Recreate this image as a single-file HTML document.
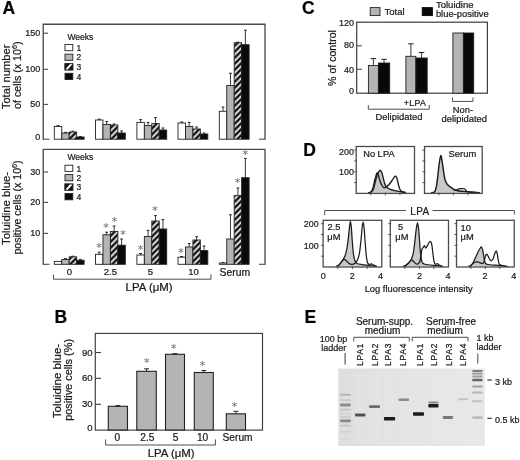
<!DOCTYPE html>
<html lang="en">
<head>
<meta charset="utf-8">
<title>Figure: LPA effects on mast cell number, toluidine blue staining, flow cytometry and RT-PCR</title>
<style>
html,body{margin:0;padding:0;background:#fff;}
body{width:520px;height:460px;overflow:hidden;}
svg{display:block;font-family:"Liberation Sans",sans-serif;}
svg text{white-space:pre;stroke:#1a1a1a;stroke-width:0.22px;}
.ast{font-family:"DejaVu Sans",sans-serif;stroke:#7a7a7a;stroke-width:0.15px;}
</style>
</head>
<body>
<svg width="520" height="460" viewBox="0 0 520 460">
<defs>
<pattern id="hatch" patternUnits="userSpaceOnUse" x="54.3" y="139.2" width="6" height="6">
<rect width="6" height="6" fill="#111"/>
<path d="M-1,7 L7,-1 M-1,1 L1,-1 M5,7 L7,5" stroke="#fff" stroke-width="1.65" fill="none"/>
</pattern>
<linearGradient id="gelbg" x1="0" y1="0" x2="1" y2="0">
<stop offset="0" stop-color="#dedede"/><stop offset="0.5" stop-color="#e4e4e4"/><stop offset="1" stop-color="#e8e8e8"/>
</linearGradient>
<filter id="b1" x="-5%" y="-5%" width="110%" height="110%"><feGaussianBlur stdDeviation="0.6"/></filter>
<filter id="b0" x="-5%" y="-5%" width="110%" height="110%"><feGaussianBlur stdDeviation="0.5"/></filter>
</defs>
<rect width="520" height="460" fill="#fff"/>
<text x="2.5" y="13.6" font-size="17.5" text-anchor="start" font-weight="bold" fill="#000">A</text>
<path d="M43.2,139.7 V24.2 H265 V139.7" stroke="#4c4c4c" stroke-width="1.35" fill="none"/>
<line x1="43" y1="139.2" x2="49.5" y2="139.2" stroke="#4c4c4c" stroke-width="1.1"/>
<line x1="259" y1="139.2" x2="265" y2="139.2" stroke="#4c4c4c" stroke-width="1.1"/>
<line x1="43" y1="33.2" x2="48" y2="33.2" stroke="#4c4c4c" stroke-width="1.1"/>
<text x="40.2" y="36.1" font-size="9" text-anchor="end" fill="#1a1a1a">150</text>
<line x1="43" y1="69.3" x2="48" y2="69.3" stroke="#4c4c4c" stroke-width="1.1"/>
<text x="40.2" y="72.2" font-size="9" text-anchor="end" fill="#1a1a1a">100</text>
<line x1="43" y1="104.4" x2="48" y2="104.4" stroke="#4c4c4c" stroke-width="1.1"/>
<text x="40.2" y="107.30000000000001" font-size="9" text-anchor="end" fill="#1a1a1a">50</text>
<text x="40.2" y="139.6" font-size="9" text-anchor="end" fill="#1a1a1a">0</text>
<text transform="translate(9.7 76.9) rotate(-90)" font-size="10.4" text-anchor="middle" fill="#1a1a1a" textLength="64.6" lengthAdjust="spacingAndGlyphs">Total number</text>
<text transform="translate(21.3 75.2) rotate(-90)" font-size="10.4" text-anchor="middle" fill="#1a1a1a" textLength="67.4" lengthAdjust="spacingAndGlyphs">of cells (x 10<tspan font-size="7" dy="-4">6</tspan><tspan dy="4">)</tspan></text>
<text x="67.5" y="39.5" font-size="8.5" text-anchor="start" fill="#1a1a1a">Weeks</text>
<rect x="65" y="44.5" width="7.8" height="6.2" fill="#fff" stroke="#222" stroke-width="0.9"/>
<text x="76.5" y="50.8" font-size="8.5" text-anchor="start" fill="#1a1a1a">1</text>
<rect x="65" y="54.1" width="7.8" height="6.2" fill="#b4b4b4" stroke="#222" stroke-width="0.9"/>
<text x="76.5" y="60.4" font-size="8.5" text-anchor="start" fill="#1a1a1a">2</text>
<rect x="65" y="63.7" width="7.8" height="6.2" fill="#111" stroke="#222" stroke-width="0.9"/>
<path d="M66.2,69.9 L71.6,63.7" stroke="#fff" stroke-width="2.0" fill="none"/>
<rect x="65" y="63.7" width="7.8" height="6.2" fill="none" stroke="#222" stroke-width="0.9"/>
<text x="76.5" y="70.0" font-size="8.5" text-anchor="start" fill="#1a1a1a">3</text>
<rect x="65" y="73.3" width="7.8" height="6.2" fill="#0a0a0a" stroke="#222" stroke-width="0.9"/>
<text x="76.5" y="79.6" font-size="8.5" text-anchor="start" fill="#1a1a1a">4</text>
<line x1="58.025" y1="126.4" x2="58.025" y2="125.6" stroke="#222" stroke-width="0.9"/>
<line x1="56.625" y1="125.6" x2="59.425" y2="125.6" stroke="#222" stroke-width="1.0"/>
<rect x="54.30" y="126.40" width="7.45" height="12.80" fill="#fff" stroke="#222" stroke-width="0.9"/>
<line x1="65.475" y1="133" x2="65.475" y2="132.4" stroke="#222" stroke-width="0.9"/>
<line x1="64.07499999999999" y1="132.4" x2="66.875" y2="132.4" stroke="#222" stroke-width="1.0"/>
<rect x="61.75" y="133.00" width="7.45" height="6.20" fill="#b4b4b4" stroke="#222" stroke-width="0.9"/>
<line x1="72.92500000000001" y1="132" x2="72.92500000000001" y2="131.2" stroke="#222" stroke-width="0.9"/>
<line x1="71.525" y1="131.2" x2="74.32500000000002" y2="131.2" stroke="#222" stroke-width="1.0"/>
<rect x="69.20" y="132.00" width="7.45" height="7.20" fill="url(#hatch)" stroke="#222" stroke-width="0.9"/>
<line x1="80.375" y1="137" x2="80.375" y2="136.6" stroke="#222" stroke-width="0.9"/>
<line x1="78.975" y1="136.6" x2="81.775" y2="136.6" stroke="#222" stroke-width="1.0"/>
<rect x="76.65" y="137.00" width="7.45" height="2.20" fill="#0a0a0a" stroke="#222" stroke-width="0.9"/>
<line x1="99.225" y1="120" x2="99.225" y2="119.2" stroke="#222" stroke-width="0.9"/>
<line x1="97.82499999999999" y1="119.2" x2="100.625" y2="119.2" stroke="#222" stroke-width="1.0"/>
<rect x="95.50" y="120.00" width="7.45" height="19.20" fill="#fff" stroke="#222" stroke-width="0.9"/>
<line x1="106.67500000000001" y1="124.4" x2="106.67500000000001" y2="121.6" stroke="#222" stroke-width="0.9"/>
<line x1="105.275" y1="121.6" x2="108.07500000000002" y2="121.6" stroke="#222" stroke-width="1.0"/>
<rect x="102.95" y="124.40" width="7.45" height="14.80" fill="#b4b4b4" stroke="#222" stroke-width="0.9"/>
<line x1="114.125" y1="125" x2="114.125" y2="124" stroke="#222" stroke-width="0.9"/>
<line x1="112.725" y1="124" x2="115.525" y2="124" stroke="#222" stroke-width="1.0"/>
<rect x="110.40" y="125.00" width="7.45" height="14.20" fill="url(#hatch)" stroke="#222" stroke-width="0.9"/>
<line x1="121.57499999999999" y1="133" x2="121.57499999999999" y2="131" stroke="#222" stroke-width="0.9"/>
<line x1="120.17499999999998" y1="131" x2="122.975" y2="131" stroke="#222" stroke-width="1.0"/>
<rect x="117.85" y="133.00" width="7.45" height="6.20" fill="#0a0a0a" stroke="#222" stroke-width="0.9"/>
<line x1="140.625" y1="122.4" x2="140.625" y2="119.6" stroke="#222" stroke-width="0.9"/>
<line x1="139.225" y1="119.6" x2="142.025" y2="119.6" stroke="#222" stroke-width="1.0"/>
<rect x="136.90" y="122.40" width="7.45" height="16.80" fill="#fff" stroke="#222" stroke-width="0.9"/>
<line x1="148.075" y1="125.6" x2="148.075" y2="122.4" stroke="#222" stroke-width="0.9"/>
<line x1="146.67499999999998" y1="122.4" x2="149.475" y2="122.4" stroke="#222" stroke-width="1.0"/>
<rect x="144.35" y="125.60" width="7.45" height="13.60" fill="#b4b4b4" stroke="#222" stroke-width="0.9"/>
<line x1="155.525" y1="123.6" x2="155.525" y2="117.6" stroke="#222" stroke-width="0.9"/>
<line x1="154.125" y1="117.6" x2="156.925" y2="117.6" stroke="#222" stroke-width="1.0"/>
<rect x="151.80" y="123.60" width="7.45" height="15.60" fill="url(#hatch)" stroke="#222" stroke-width="0.9"/>
<line x1="162.97500000000002" y1="130" x2="162.97500000000002" y2="128" stroke="#222" stroke-width="0.9"/>
<line x1="161.57500000000002" y1="128" x2="164.37500000000003" y2="128" stroke="#222" stroke-width="1.0"/>
<rect x="159.25" y="130.00" width="7.45" height="9.20" fill="#0a0a0a" stroke="#222" stroke-width="0.9"/>
<line x1="181.725" y1="123" x2="181.725" y2="122" stroke="#222" stroke-width="0.9"/>
<line x1="180.325" y1="122" x2="183.125" y2="122" stroke="#222" stroke-width="1.0"/>
<rect x="178.00" y="123.00" width="7.45" height="16.20" fill="#fff" stroke="#222" stroke-width="0.9"/>
<line x1="189.175" y1="126.4" x2="189.175" y2="122.4" stroke="#222" stroke-width="0.9"/>
<line x1="187.775" y1="122.4" x2="190.57500000000002" y2="122.4" stroke="#222" stroke-width="1.0"/>
<rect x="185.45" y="126.40" width="7.45" height="12.80" fill="#b4b4b4" stroke="#222" stroke-width="0.9"/>
<line x1="196.625" y1="129" x2="196.625" y2="127" stroke="#222" stroke-width="0.9"/>
<line x1="195.225" y1="127" x2="198.025" y2="127" stroke="#222" stroke-width="1.0"/>
<rect x="192.90" y="129.00" width="7.45" height="10.20" fill="url(#hatch)" stroke="#222" stroke-width="0.9"/>
<line x1="204.075" y1="134" x2="204.075" y2="133" stroke="#222" stroke-width="0.9"/>
<line x1="202.67499999999998" y1="133" x2="205.475" y2="133" stroke="#222" stroke-width="1.0"/>
<rect x="200.35" y="134.00" width="7.45" height="5.20" fill="#0a0a0a" stroke="#222" stroke-width="0.9"/>
<line x1="223.025" y1="111.3" x2="223.025" y2="107" stroke="#222" stroke-width="0.9"/>
<line x1="221.625" y1="107" x2="224.425" y2="107" stroke="#222" stroke-width="1.0"/>
<rect x="219.30" y="111.30" width="7.45" height="27.90" fill="#fff" stroke="#222" stroke-width="0.9"/>
<line x1="230.47500000000002" y1="85.5" x2="230.47500000000002" y2="73.3" stroke="#222" stroke-width="0.9"/>
<line x1="229.07500000000002" y1="73.3" x2="231.87500000000003" y2="73.3" stroke="#222" stroke-width="1.0"/>
<rect x="226.75" y="85.50" width="7.45" height="53.70" fill="#b4b4b4" stroke="#222" stroke-width="0.9"/>
<line x1="237.925" y1="42.7" x2="237.925" y2="42.2" stroke="#222" stroke-width="0.9"/>
<line x1="236.525" y1="42.2" x2="239.32500000000002" y2="42.2" stroke="#222" stroke-width="1.0"/>
<rect x="234.20" y="42.70" width="7.45" height="96.50" fill="url(#hatch)" stroke="#222" stroke-width="0.9"/>
<line x1="245.375" y1="44.7" x2="245.375" y2="30.2" stroke="#222" stroke-width="0.9"/>
<line x1="243.975" y1="30.2" x2="246.775" y2="30.2" stroke="#222" stroke-width="1.0"/>
<rect x="241.65" y="44.70" width="7.45" height="94.50" fill="#0a0a0a" stroke="#222" stroke-width="0.9"/>
<path d="M43.2,264.8 V149.3 H265 V264.8" stroke="#4c4c4c" stroke-width="1.35" fill="none"/>
<line x1="43" y1="264.3" x2="49.5" y2="264.3" stroke="#4c4c4c" stroke-width="1.1"/>
<line x1="259" y1="264.3" x2="265" y2="264.3" stroke="#4c4c4c" stroke-width="1.1"/>
<line x1="43" y1="172" x2="48" y2="172" stroke="#4c4c4c" stroke-width="1.1"/>
<text x="40.2" y="174.9" font-size="9" text-anchor="end" fill="#1a1a1a">30</text>
<line x1="43" y1="202.4" x2="48" y2="202.4" stroke="#4c4c4c" stroke-width="1.1"/>
<text x="40.2" y="205.3" font-size="9" text-anchor="end" fill="#1a1a1a">20</text>
<line x1="43" y1="233.4" x2="48" y2="233.4" stroke="#4c4c4c" stroke-width="1.1"/>
<text x="40.2" y="236.3" font-size="9" text-anchor="end" fill="#1a1a1a">10</text>
<text transform="translate(9.8 208.4) rotate(-90)" font-size="10.4" text-anchor="middle" fill="#1a1a1a" textLength="73" lengthAdjust="spacingAndGlyphs">Toluidine blue-</text>
<text transform="translate(21.3 207.5) rotate(-90)" font-size="10.4" text-anchor="middle" fill="#1a1a1a" textLength="94.2" lengthAdjust="spacingAndGlyphs">positive cells (x 10<tspan font-size="7" dy="-4">6</tspan><tspan dy="4">)</tspan></text>
<text x="67.5" y="160.2" font-size="8.5" text-anchor="start" fill="#1a1a1a">Weeks</text>
<rect x="65" y="165.2" width="7.8" height="6.2" fill="#fff" stroke="#222" stroke-width="0.9"/>
<text x="76.5" y="171.5" font-size="8.5" text-anchor="start" fill="#1a1a1a">1</text>
<rect x="65" y="174.6" width="7.8" height="6.2" fill="#b4b4b4" stroke="#222" stroke-width="0.9"/>
<text x="76.5" y="180.9" font-size="8.5" text-anchor="start" fill="#1a1a1a">2</text>
<rect x="65" y="184.0" width="7.8" height="6.2" fill="#111" stroke="#222" stroke-width="0.9"/>
<path d="M66.2,190.2 L71.6,184.0" stroke="#fff" stroke-width="2.0" fill="none"/>
<rect x="65" y="184.0" width="7.8" height="6.2" fill="none" stroke="#222" stroke-width="0.9"/>
<text x="76.5" y="190.3" font-size="8.5" text-anchor="start" fill="#1a1a1a">3</text>
<rect x="65" y="193.6" width="7.8" height="6.2" fill="#0a0a0a" stroke="#222" stroke-width="0.9"/>
<text x="76.5" y="199.9" font-size="8.5" text-anchor="start" fill="#1a1a1a">4</text>
<rect x="54.30" y="261.40" width="7.45" height="2.90" fill="#fff" stroke="#222" stroke-width="0.9"/>
<line x1="65.475" y1="259.4" x2="65.475" y2="258.6" stroke="#222" stroke-width="0.9"/>
<line x1="64.07499999999999" y1="258.6" x2="66.875" y2="258.6" stroke="#222" stroke-width="1.0"/>
<rect x="61.75" y="259.40" width="7.45" height="4.90" fill="#b4b4b4" stroke="#222" stroke-width="0.9"/>
<line x1="72.92500000000001" y1="256.8" x2="72.92500000000001" y2="256.2" stroke="#222" stroke-width="0.9"/>
<line x1="71.525" y1="256.2" x2="74.32500000000002" y2="256.2" stroke="#222" stroke-width="1.0"/>
<rect x="69.20" y="256.80" width="7.45" height="7.50" fill="url(#hatch)" stroke="#222" stroke-width="0.9"/>
<line x1="80.375" y1="260.2" x2="80.375" y2="259.4" stroke="#222" stroke-width="0.9"/>
<line x1="78.975" y1="259.4" x2="81.775" y2="259.4" stroke="#222" stroke-width="1.0"/>
<rect x="76.65" y="260.20" width="7.45" height="4.10" fill="#0a0a0a" stroke="#222" stroke-width="0.9"/>
<line x1="99.225" y1="254.3" x2="99.225" y2="252.2" stroke="#222" stroke-width="0.9"/>
<line x1="97.82499999999999" y1="252.2" x2="100.625" y2="252.2" stroke="#222" stroke-width="1.0"/>
<rect x="95.50" y="254.30" width="7.45" height="10.00" fill="#fff" stroke="#222" stroke-width="0.9"/>
<line x1="106.67500000000001" y1="234.8" x2="106.67500000000001" y2="232.2" stroke="#222" stroke-width="0.9"/>
<line x1="105.275" y1="232.2" x2="108.07500000000002" y2="232.2" stroke="#222" stroke-width="1.0"/>
<rect x="102.95" y="234.80" width="7.45" height="29.50" fill="#b4b4b4" stroke="#222" stroke-width="0.9"/>
<line x1="114.125" y1="231.5" x2="114.125" y2="226" stroke="#222" stroke-width="0.9"/>
<line x1="112.725" y1="226" x2="115.525" y2="226" stroke="#222" stroke-width="1.0"/>
<rect x="110.40" y="231.50" width="7.45" height="32.80" fill="url(#hatch)" stroke="#222" stroke-width="0.9"/>
<line x1="121.57499999999999" y1="245.2" x2="121.57499999999999" y2="239" stroke="#222" stroke-width="0.9"/>
<line x1="120.17499999999998" y1="239" x2="122.975" y2="239" stroke="#222" stroke-width="1.0"/>
<rect x="117.85" y="245.20" width="7.45" height="19.10" fill="#0a0a0a" stroke="#222" stroke-width="0.9"/>
<line x1="140.625" y1="255" x2="140.625" y2="253.5" stroke="#222" stroke-width="0.9"/>
<line x1="139.225" y1="253.5" x2="142.025" y2="253.5" stroke="#222" stroke-width="1.0"/>
<rect x="136.90" y="255.00" width="7.45" height="9.30" fill="#fff" stroke="#222" stroke-width="0.9"/>
<line x1="148.075" y1="236.5" x2="148.075" y2="230.4" stroke="#222" stroke-width="0.9"/>
<line x1="146.67499999999998" y1="230.4" x2="149.475" y2="230.4" stroke="#222" stroke-width="1.0"/>
<rect x="144.35" y="236.50" width="7.45" height="27.80" fill="#b4b4b4" stroke="#222" stroke-width="0.9"/>
<line x1="155.525" y1="221" x2="155.525" y2="215.6" stroke="#222" stroke-width="0.9"/>
<line x1="154.125" y1="215.6" x2="156.925" y2="215.6" stroke="#222" stroke-width="1.0"/>
<rect x="151.80" y="221.00" width="7.45" height="43.30" fill="url(#hatch)" stroke="#222" stroke-width="0.9"/>
<line x1="162.97500000000002" y1="229" x2="162.97500000000002" y2="219.6" stroke="#222" stroke-width="0.9"/>
<line x1="161.57500000000002" y1="219.6" x2="164.37500000000003" y2="219.6" stroke="#222" stroke-width="1.0"/>
<rect x="159.25" y="229.00" width="7.45" height="35.30" fill="#0a0a0a" stroke="#222" stroke-width="0.9"/>
<line x1="181.725" y1="257.2" x2="181.725" y2="256.5" stroke="#222" stroke-width="0.9"/>
<line x1="180.325" y1="256.5" x2="183.125" y2="256.5" stroke="#222" stroke-width="1.0"/>
<rect x="178.00" y="257.20" width="7.45" height="7.10" fill="#fff" stroke="#222" stroke-width="0.9"/>
<line x1="189.175" y1="247" x2="189.175" y2="243.6" stroke="#222" stroke-width="0.9"/>
<line x1="187.775" y1="243.6" x2="190.57500000000002" y2="243.6" stroke="#222" stroke-width="1.0"/>
<rect x="185.45" y="247.00" width="7.45" height="17.30" fill="#b4b4b4" stroke="#222" stroke-width="0.9"/>
<line x1="196.625" y1="240" x2="196.625" y2="236.7" stroke="#222" stroke-width="0.9"/>
<line x1="195.225" y1="236.7" x2="198.025" y2="236.7" stroke="#222" stroke-width="1.0"/>
<rect x="192.90" y="240.00" width="7.45" height="24.30" fill="url(#hatch)" stroke="#222" stroke-width="0.9"/>
<line x1="204.075" y1="250.6" x2="204.075" y2="246" stroke="#222" stroke-width="0.9"/>
<line x1="202.67499999999998" y1="246" x2="205.475" y2="246" stroke="#222" stroke-width="1.0"/>
<rect x="200.35" y="250.60" width="7.45" height="13.70" fill="#0a0a0a" stroke="#222" stroke-width="0.9"/>
<line x1="223.025" y1="263" x2="223.025" y2="262.5" stroke="#222" stroke-width="0.9"/>
<line x1="221.625" y1="262.5" x2="224.425" y2="262.5" stroke="#222" stroke-width="1.0"/>
<rect x="219.30" y="263.00" width="7.45" height="1.30" fill="#fff" stroke="#222" stroke-width="0.9"/>
<line x1="230.47500000000002" y1="239" x2="230.47500000000002" y2="214.8" stroke="#222" stroke-width="0.9"/>
<line x1="229.07500000000002" y1="214.8" x2="231.87500000000003" y2="214.8" stroke="#222" stroke-width="1.0"/>
<rect x="226.75" y="239.00" width="7.45" height="25.30" fill="#b4b4b4" stroke="#222" stroke-width="0.9"/>
<line x1="237.925" y1="195.6" x2="237.925" y2="188" stroke="#222" stroke-width="0.9"/>
<line x1="236.525" y1="188" x2="239.32500000000002" y2="188" stroke="#222" stroke-width="1.0"/>
<rect x="234.20" y="195.60" width="7.45" height="68.70" fill="url(#hatch)" stroke="#222" stroke-width="0.9"/>
<line x1="245.375" y1="177.7" x2="245.375" y2="158.4" stroke="#222" stroke-width="0.9"/>
<line x1="243.975" y1="158.4" x2="246.775" y2="158.4" stroke="#222" stroke-width="1.0"/>
<rect x="241.65" y="177.70" width="7.45" height="86.60" fill="#0a0a0a" stroke="#222" stroke-width="0.9"/>
<text x="99.1" y="251.3" font-size="11" text-anchor="middle" fill="#7a7a7a" class="ast">*</text>
<text x="106.1" y="230.70000000000002" font-size="11" text-anchor="middle" fill="#7a7a7a" class="ast">*</text>
<text x="114.4" y="225.10000000000002" font-size="11" text-anchor="middle" fill="#7a7a7a" class="ast">*</text>
<text x="122.9" y="238.10000000000002" font-size="11" text-anchor="middle" fill="#7a7a7a" class="ast">*</text>
<text x="140.4" y="252.70000000000002" font-size="11" text-anchor="middle" fill="#7a7a7a" class="ast">*</text>
<text x="155" y="214.3" font-size="11" text-anchor="middle" fill="#7a7a7a" class="ast">*</text>
<text x="181" y="255.9" font-size="11" text-anchor="middle" fill="#7a7a7a" class="ast">*</text>
<text x="237.5" y="185.60000000000002" font-size="11" text-anchor="middle" fill="#7a7a7a" class="ast">*</text>
<text x="245.3" y="158.20000000000002" font-size="11" text-anchor="middle" fill="#7a7a7a" class="ast">*</text>
<text x="69.5" y="275.0" font-size="9.5" text-anchor="middle" fill="#1a1a1a">0</text>
<text x="110.4" y="275.0" font-size="9.5" text-anchor="middle" fill="#1a1a1a">2.5</text>
<text x="150.5" y="275.0" font-size="9.5" text-anchor="middle" fill="#1a1a1a">5</text>
<text x="193.5" y="275.0" font-size="9.5" text-anchor="middle" fill="#1a1a1a">10</text>
<text x="234.8" y="275.6" font-size="10.4" text-anchor="middle" fill="#1a1a1a">Serum</text>
<path d="M53.5,274.5 V279.2 H211 V274.5" stroke="#4c4c4c" stroke-width="1" fill="none"/>
<text x="149.1" y="291.3" font-size="10.5" text-anchor="middle" fill="#1a1a1a" textLength="47" lengthAdjust="spacingAndGlyphs">LPA (μM)</text>
<text x="54.5" y="322.6" font-size="17.5" text-anchor="start" font-weight="bold" fill="#000">B</text>
<rect x="95.3" y="333.4" width="167.2" height="96.7" fill="none" stroke="#3c3c3c" stroke-width="1.15"/>
<line x1="95.3" y1="352.5" x2="101" y2="352.5" stroke="#3c3c3c" stroke-width="1.1"/>
<text x="92.6" y="355.6" font-size="9.5" text-anchor="end" fill="#1a1a1a">90</text>
<line x1="95.3" y1="378.3" x2="101" y2="378.3" stroke="#3c3c3c" stroke-width="1.1"/>
<text x="92.6" y="381.40000000000003" font-size="9.5" text-anchor="end" fill="#1a1a1a">60</text>
<line x1="95.3" y1="404.3" x2="101" y2="404.3" stroke="#3c3c3c" stroke-width="1.1"/>
<text x="92.6" y="407.40000000000003" font-size="9.5" text-anchor="end" fill="#1a1a1a">30</text>
<text x="92.6" y="431.0" font-size="9.5" text-anchor="end" fill="#1a1a1a">0</text>
<text transform="translate(60.8 381) rotate(-90)" font-size="10.3" text-anchor="middle" fill="#1a1a1a" textLength="74.3" lengthAdjust="spacingAndGlyphs">Toluidine blue-</text>
<text transform="translate(71.6 379.9) rotate(-90)" font-size="10.3" text-anchor="middle" fill="#1a1a1a" textLength="81.9" lengthAdjust="spacingAndGlyphs">positive cells (%)</text>
<line x1="117.9" y1="406.3" x2="117.9" y2="405.6" stroke="#222" stroke-width="0.9"/>
<line x1="115.5" y1="405.6" x2="120.30000000000001" y2="405.6" stroke="#222" stroke-width="1.0"/>
<rect x="108.30" y="406.30" width="19.20" height="23.70" fill="#b4b4b4" stroke="#222" stroke-width="1.1"/>
<line x1="146.55" y1="371.3" x2="146.55" y2="368.8" stroke="#222" stroke-width="0.9"/>
<line x1="144.15" y1="368.8" x2="148.95000000000002" y2="368.8" stroke="#222" stroke-width="1.0"/>
<rect x="136.80" y="371.30" width="19.50" height="58.70" fill="#b4b4b4" stroke="#222" stroke-width="1.1"/>
<line x1="175.0" y1="354.3" x2="175.0" y2="353.6" stroke="#222" stroke-width="0.9"/>
<line x1="172.6" y1="353.6" x2="177.4" y2="353.6" stroke="#222" stroke-width="1.0"/>
<rect x="165.50" y="354.30" width="19.00" height="75.70" fill="#b4b4b4" stroke="#222" stroke-width="1.1"/>
<line x1="203.8" y1="372.5" x2="203.8" y2="370.5" stroke="#222" stroke-width="0.9"/>
<line x1="201.4" y1="370.5" x2="206.20000000000002" y2="370.5" stroke="#222" stroke-width="1.0"/>
<rect x="194.30" y="372.50" width="19.00" height="57.50" fill="#b4b4b4" stroke="#222" stroke-width="1.1"/>
<line x1="235.9" y1="413.8" x2="235.9" y2="411.3" stroke="#222" stroke-width="0.9"/>
<line x1="233.5" y1="411.3" x2="238.3" y2="411.3" stroke="#222" stroke-width="1.0"/>
<rect x="226.30" y="413.80" width="19.20" height="16.20" fill="#b4b4b4" stroke="#222" stroke-width="1.1"/>
<text x="146.8" y="366.1" font-size="11" text-anchor="middle" fill="#7a7a7a" class="ast">*</text>
<text x="173.8" y="352.3" font-size="11" text-anchor="middle" fill="#7a7a7a" class="ast">*</text>
<text x="202.5" y="369.1" font-size="11" text-anchor="middle" fill="#7a7a7a" class="ast">*</text>
<text x="234.5" y="409.8" font-size="11" text-anchor="middle" fill="#7a7a7a" class="ast">*</text>
<text x="117.4" y="441.3" font-size="10.2" text-anchor="middle" fill="#1a1a1a">0</text>
<text x="147.4" y="441.3" font-size="10.2" text-anchor="middle" fill="#1a1a1a">2.5</text>
<text x="175.6" y="441.3" font-size="10.2" text-anchor="middle" fill="#1a1a1a">5</text>
<text x="202.6" y="441.3" font-size="10.2" text-anchor="middle" fill="#1a1a1a">10</text>
<text x="237.6" y="441.4" font-size="10.2" text-anchor="middle" fill="#1a1a1a">Serum</text>
<path d="M105.6,439.4 V445 H215.4 V439.4" stroke="#4c4c4c" stroke-width="1" fill="none"/>
<text x="171.2" y="456.6" font-size="10.5" text-anchor="middle" fill="#1a1a1a" textLength="46.8" lengthAdjust="spacingAndGlyphs">LPA (μM)</text>
<text x="302" y="13.9" font-size="17.5" text-anchor="start" font-weight="bold" fill="#000">C</text>
<rect x="370.2" y="7.6" width="9.8" height="8.0" fill="#b4b4b4" stroke="#222" stroke-width="0.9"/>
<text x="384.4" y="15.2" font-size="9.55" text-anchor="start" fill="#1a1a1a">Total</text>
<rect x="422.2" y="7.6" width="10.2" height="8.0" fill="#080808" stroke="#080808" stroke-width="0.9"/>
<text x="435.9" y="8.4" font-size="9.55" text-anchor="start" fill="#1a1a1a">Toluidine</text>
<text x="435.9" y="17.2" font-size="9.4" text-anchor="start" fill="#1a1a1a" textLength="52.8" lengthAdjust="spacingAndGlyphs">blue-positive</text>
<rect x="356.7" y="22.2" width="130.7" height="71.0" fill="none" stroke="#3c3c3c" stroke-width="1.2"/>
<text x="354.0" y="25.7" font-size="9" text-anchor="end" fill="#1a1a1a">120</text>
<line x1="356.7" y1="45.8" x2="361.9" y2="45.8" stroke="#4c4c4c" stroke-width="1.1"/>
<text x="354.0" y="48.3" font-size="9" text-anchor="end" fill="#1a1a1a">80</text>
<line x1="356.7" y1="69.3" x2="361.9" y2="69.3" stroke="#4c4c4c" stroke-width="1.1"/>
<text x="354.0" y="72.89999999999999" font-size="9" text-anchor="end" fill="#1a1a1a">40</text>
<text x="354.0" y="94.1" font-size="9" text-anchor="end" fill="#1a1a1a">0</text>
<text transform="translate(336.3 58) rotate(-90)" font-size="10.6" text-anchor="middle" fill="#1a1a1a">% of control</text>
<line x1="373.4" y1="65.5" x2="373.4" y2="58.6" stroke="#222" stroke-width="0.9"/>
<line x1="370.65" y1="58.6" x2="376.15" y2="58.6" stroke="#222" stroke-width="1.0"/>
<rect x="368.40" y="65.50" width="10.00" height="27.70" fill="#b4b4b4" stroke="#222" stroke-width="0.9"/>
<line x1="384.04999999999995" y1="63" x2="384.04999999999995" y2="59.3" stroke="#222" stroke-width="0.9"/>
<line x1="381.29999999999995" y1="59.3" x2="386.79999999999995" y2="59.3" stroke="#222" stroke-width="1.0"/>
<rect x="378.40" y="63.00" width="11.30" height="30.20" fill="#080808" stroke="#222" stroke-width="0.9"/>
<line x1="410.9" y1="56.3" x2="410.9" y2="43.8" stroke="#222" stroke-width="0.9"/>
<line x1="408.15" y1="43.8" x2="413.65" y2="43.8" stroke="#222" stroke-width="1.0"/>
<rect x="405.90" y="56.30" width="10.00" height="36.90" fill="#b4b4b4" stroke="#222" stroke-width="0.9"/>
<line x1="421.54999999999995" y1="58" x2="421.54999999999995" y2="52.5" stroke="#222" stroke-width="0.9"/>
<line x1="418.79999999999995" y1="52.5" x2="424.29999999999995" y2="52.5" stroke="#222" stroke-width="1.0"/>
<rect x="415.90" y="58.00" width="11.30" height="35.20" fill="#080808" stroke="#222" stroke-width="0.9"/>
<rect x="452.90" y="33.00" width="10.50" height="60.20" fill="#b4b4b4" stroke="#222" stroke-width="0.9"/>
<rect x="463.40" y="33.00" width="10.30" height="60.20" fill="#080808" stroke="#222" stroke-width="0.9"/>
<text x="403.7" y="105.9" font-size="8.8" text-anchor="start" fill="#1a1a1a" letter-spacing="0.35">+LPA</text>
<path d="M368.3,105 V109.2 H429.2 V105" stroke="#4c4c4c" stroke-width="1" fill="none"/>
<text x="399" y="119.8" font-size="9.4" text-anchor="middle" fill="#1a1a1a">Delipidated</text>
<path d="M452.5,97.5 V101.4 H473 V97.5" stroke="#4c4c4c" stroke-width="1" fill="none"/>
<text x="463" y="113" font-size="9.4" text-anchor="middle" fill="#1a1a1a">Non-</text>
<text x="464.3" y="122.2" font-size="9.4" text-anchor="middle" fill="#1a1a1a">delipidated</text>
<text x="303.3" y="155.6" font-size="17.5" text-anchor="start" font-weight="bold" fill="#000">D</text>
<path d="M368.0,192.7 C368.4,192.6 370.2,192.7 371.0,192.2 C371.8,191.7 372.9,190.6 373.5,189.0 C374.1,187.4 374.9,183.1 375.5,181.0 C376.1,178.9 377.0,175.3 377.5,174.0 C378.0,172.7 378.6,172.0 379.0,171.5 C379.4,171.0 379.9,170.2 380.3,170.3 C380.7,170.4 381.4,171.6 381.8,172.5 C382.2,173.4 382.6,175.5 383.0,177.0 C383.4,178.5 384.1,181.7 384.5,183.0 C384.9,184.3 385.4,185.7 386.0,186.5 C386.6,187.3 387.7,188.0 388.5,188.5 C389.3,189.0 390.8,189.7 392.0,190.0 C393.2,190.3 395.6,190.7 397.0,191.0 C398.4,191.3 400.7,191.8 402.0,192.0 C403.3,192.2 405.4,192.6 406.0,192.7" fill="#c9c9c9" stroke="#1c1c1c" stroke-width="1.3499999999999999" stroke-linejoin="round"/>
<path d="M368.0,192.7 C368.4,192.6 370.3,192.7 371.0,192.0 C371.7,191.3 372.4,189.8 373.0,188.0 C373.6,186.2 374.4,181.1 375.0,179.0 C375.6,176.9 376.5,173.6 377.0,173.0 C377.5,172.4 377.9,173.9 378.3,175.0 C378.7,176.1 379.5,179.5 380.0,181.0 C380.5,182.5 381.4,184.5 382.0,185.5 C382.6,186.5 383.4,187.6 384.0,187.8 C384.6,188.0 385.3,187.5 386.0,187.0 C386.7,186.5 388.2,185.4 389.0,184.5 C389.8,183.6 391.3,181.5 392.0,180.5 C392.7,179.5 393.7,177.8 394.2,177.2 C394.7,176.6 395.3,176.0 395.7,176.2 C396.1,176.4 396.6,177.3 397.0,178.5 C397.4,179.7 398.1,183.5 398.5,185.0 C398.9,186.5 399.5,188.6 400.0,189.5 C400.5,190.4 401.2,191.3 402.0,191.7 C402.8,192.1 405.4,192.6 406.0,192.7" fill="none" stroke="#1c1c1c" stroke-width="1.3499999999999999" stroke-linejoin="round"/>
<rect x="356.2" y="146.5" width="58.3" height="46.9" fill="none" stroke="#4c4c4c" stroke-width="1.3"/>
<line x1="354.09999999999997" y1="182.57" x2="357.09999999999997" y2="182.57" stroke="#4c4c4c" stroke-width="0.9"/>
<line x1="354.09999999999997" y1="171.74" x2="357.09999999999997" y2="171.74" stroke="#4c4c4c" stroke-width="0.9"/>
<line x1="354.09999999999997" y1="160.91" x2="357.09999999999997" y2="160.91" stroke="#4c4c4c" stroke-width="0.9"/>
<line x1="354.09999999999997" y1="150.08" x2="357.09999999999997" y2="150.08" stroke="#4c4c4c" stroke-width="0.9"/>
<line x1="370.775" y1="195.4" x2="370.775" y2="192.5" stroke="#4c4c4c" stroke-width="0.9"/>
<line x1="385.35" y1="195.4" x2="385.35" y2="192.5" stroke="#4c4c4c" stroke-width="0.9"/>
<line x1="399.925" y1="195.4" x2="399.925" y2="192.5" stroke="#4c4c4c" stroke-width="0.9"/>
<text x="353.9" y="154.5" font-size="8.9" text-anchor="end" fill="#1a1a1a">200</text>
<text x="353.9" y="175.2" font-size="8.9" text-anchor="end" fill="#1a1a1a">100</text>
<text x="363.3" y="157.2" font-size="9.2" text-anchor="start" fill="#1a1a1a">No <tspan letter-spacing="0.2">LPA</tspan></text>
<path d="M431.0,192.8 C431.5,192.7 433.8,192.8 434.5,192.0 C435.2,191.2 435.8,189.2 436.3,187.0 C436.8,184.8 437.4,179.4 437.8,176.0 C438.2,172.6 438.9,165.9 439.3,163.0 C439.7,160.1 440.4,155.5 440.8,155.4 C441.2,155.3 441.8,159.8 442.2,162.0 C442.6,164.2 443.1,168.6 443.5,171.0 C443.9,173.4 444.5,177.7 445.0,179.5 C445.5,181.3 446.2,182.9 447.0,184.0 C447.8,185.1 449.4,186.4 450.5,187.2 C451.6,188.0 453.8,189.5 455.0,190.0 C456.2,190.5 457.6,190.8 459.0,191.0 C460.4,191.2 463.2,191.3 465.0,191.5 C466.8,191.7 469.9,192.1 472.0,192.3 C474.1,192.5 478.9,192.7 480.0,192.8" fill="#c9c9c9" stroke="#1c1c1c" stroke-width="1.45" stroke-linejoin="round"/>
<path d="M453.0,189.5 C453.4,189.6 455.3,190.3 456.0,190.3 C456.7,190.3 457.3,189.4 458.0,189.2 C458.7,189.0 460.1,188.7 461.0,188.6 C461.9,188.5 463.8,188.5 464.5,188.8 C465.2,189.1 465.5,190.1 466.0,190.5 C466.5,190.9 466.9,191.6 468.0,191.8 C469.1,192.0 472.3,192.1 474.0,192.2 C475.7,192.3 479.2,192.7 480.0,192.8" fill="none" stroke="#1c1c1c" stroke-width="1.25" stroke-linejoin="round"/>
<rect x="424.5" y="146.5" width="57.7" height="46.9" fill="none" stroke="#4c4c4c" stroke-width="1.3"/>
<line x1="422.4" y1="182.57" x2="425.4" y2="182.57" stroke="#4c4c4c" stroke-width="0.9"/>
<line x1="422.4" y1="171.74" x2="425.4" y2="171.74" stroke="#4c4c4c" stroke-width="0.9"/>
<line x1="422.4" y1="160.91" x2="425.4" y2="160.91" stroke="#4c4c4c" stroke-width="0.9"/>
<line x1="422.4" y1="150.08" x2="425.4" y2="150.08" stroke="#4c4c4c" stroke-width="0.9"/>
<line x1="438.925" y1="195.4" x2="438.925" y2="192.5" stroke="#4c4c4c" stroke-width="0.9"/>
<line x1="453.35" y1="195.4" x2="453.35" y2="192.5" stroke="#4c4c4c" stroke-width="0.9"/>
<line x1="467.775" y1="195.4" x2="467.775" y2="192.5" stroke="#4c4c4c" stroke-width="0.9"/>
<text x="462.4" y="157.2" font-size="9.4" text-anchor="middle" fill="#1a1a1a">Serum</text>
<path d="M324.7,215 V210.5 H405.8" stroke="#4c4c4c" stroke-width="1" fill="none"/>
<path d="M432.5,210.5 H514.3 V214.6" stroke="#4c4c4c" stroke-width="1" fill="none"/>
<text x="420.0" y="214.6" font-size="10" text-anchor="middle" fill="#1a1a1a" letter-spacing="0.4">LPA</text>
<path d="M336.0,266.5 C336.4,266.4 337.7,266.1 338.5,265.5 C339.3,264.9 340.6,263.3 341.5,262.0 C342.4,260.7 344.2,258.0 345.0,256.0 C345.8,254.0 346.5,250.7 347.0,248.0 C347.5,245.3 348.1,240.1 348.5,237.0 C348.9,233.9 349.3,228.2 349.6,226.0 C349.9,223.8 350.2,221.5 350.4,221.6 C350.6,221.7 351.0,224.4 351.3,227.0 C351.6,229.6 351.9,236.4 352.2,240.0 C352.5,243.6 352.9,250.1 353.3,253.0 C353.7,255.9 354.5,259.5 355.0,261.0 C355.5,262.5 356.0,263.0 357.0,263.5 C358.0,264.0 360.2,264.3 362.0,264.6 C363.8,264.9 368.0,265.3 370.0,265.6 C372.0,265.9 375.2,266.4 376.0,266.5" fill="#c9c9c9" stroke="#1c1c1c" stroke-width="1.25" stroke-linejoin="round"/>
<path d="M336.0,266.5 C336.4,266.3 337.8,265.9 338.5,265.3 C339.2,264.7 340.4,263.2 341.0,262.5 C341.6,261.8 342.5,260.4 343.0,260.0 C343.5,259.6 344.1,259.3 344.6,259.4 C345.1,259.5 345.9,260.4 346.5,261.0 C347.1,261.6 348.2,263.0 349.0,263.5 C349.8,264.0 351.2,264.3 352.0,264.3 C352.8,264.3 354.2,263.8 355.0,263.2 C355.8,262.6 356.9,261.4 357.5,260.0 C358.1,258.6 359.0,255.8 359.5,253.0 C360.0,250.2 360.6,243.6 361.0,240.0 C361.4,236.4 361.9,229.5 362.2,227.0 C362.5,224.5 362.8,222.0 363.1,222.0 C363.4,222.0 363.7,224.5 364.0,227.0 C364.3,229.5 364.7,236.4 365.0,240.0 C365.3,243.6 365.7,249.9 366.0,253.0 C366.3,256.1 366.9,260.4 367.3,262.0 C367.7,263.6 368.4,264.2 369.0,264.5 C369.6,264.8 370.9,263.7 371.5,263.8 C372.1,263.9 372.7,264.6 373.5,265.0 C374.3,265.4 376.5,266.3 377.0,266.5" fill="none" stroke="#1c1c1c" stroke-width="1.25" stroke-linejoin="round"/>
<rect x="323.1" y="220.3" width="58.7" height="46.7" fill="none" stroke="#4c4c4c" stroke-width="1.3"/>
<line x1="321.0" y1="256.17" x2="324.0" y2="256.17" stroke="#4c4c4c" stroke-width="0.9"/>
<line x1="321.0" y1="245.34" x2="324.0" y2="245.34" stroke="#4c4c4c" stroke-width="0.9"/>
<line x1="321.0" y1="234.51" x2="324.0" y2="234.51" stroke="#4c4c4c" stroke-width="0.9"/>
<line x1="321.0" y1="223.68" x2="324.0" y2="223.68" stroke="#4c4c4c" stroke-width="0.9"/>
<line x1="337.77500000000003" y1="269.0" x2="337.77500000000003" y2="266.1" stroke="#4c4c4c" stroke-width="0.9"/>
<line x1="352.45000000000005" y1="269.0" x2="352.45000000000005" y2="266.1" stroke="#4c4c4c" stroke-width="0.9"/>
<line x1="367.125" y1="269.0" x2="367.125" y2="266.1" stroke="#4c4c4c" stroke-width="0.9"/>
<text x="318.6" y="227.2" font-size="8.9" text-anchor="end" fill="#1a1a1a">200</text>
<text x="318.6" y="248.6" font-size="8.9" text-anchor="end" fill="#1a1a1a">100</text>
<text x="327.5" y="230.0" font-size="9.3" text-anchor="start" fill="#1a1a1a">2.5</text>
<text x="327.3" y="240" font-size="9.3" text-anchor="start" fill="#1a1a1a">μM</text>
<path d="M403.0,266.5 C403.4,266.3 405.2,266.0 406.0,265.4 C406.8,264.8 408.2,263.4 409.0,262.5 C409.8,261.6 410.9,260.5 411.5,259.0 C412.1,257.5 413.0,254.7 413.5,252.0 C414.0,249.3 414.6,243.4 415.0,240.0 C415.4,236.6 416.0,230.4 416.4,228.0 C416.8,225.6 417.2,222.8 417.5,222.8 C417.8,222.8 418.2,225.6 418.5,228.0 C418.8,230.4 419.2,236.5 419.5,240.0 C419.8,243.5 420.1,249.9 420.5,253.0 C420.9,256.1 421.5,260.5 422.0,262.0 C422.5,263.5 422.9,263.6 424.0,264.0 C425.1,264.4 428.0,264.8 430.0,265.0 C432.0,265.2 436.3,265.4 438.0,265.6 C439.7,265.8 441.4,266.4 442.0,266.5" fill="#c9c9c9" stroke="#1c1c1c" stroke-width="1.25" stroke-linejoin="round"/>
<path d="M403.0,266.5 C403.4,266.3 405.2,265.8 406.0,265.2 C406.8,264.6 408.2,263.2 409.0,262.5 C409.8,261.8 410.9,260.1 411.5,260.0 C412.1,259.9 412.9,261.0 413.5,261.5 C414.1,262.0 415.0,263.2 415.6,263.6 C416.2,264.0 417.4,264.4 418.0,264.0 C418.6,263.6 419.6,262.4 420.0,261.0 C420.4,259.6 420.9,255.7 421.2,254.0 C421.5,252.3 421.7,249.9 422.0,249.0 C422.3,248.1 422.9,248.0 423.2,247.5 C423.5,247.0 424.1,245.4 424.4,245.5 C424.7,245.6 425.3,247.8 425.6,248.0 C425.9,248.2 426.3,247.2 426.6,246.8 C426.9,246.5 427.2,246.0 427.5,245.5 C427.8,245.0 428.4,243.6 428.8,243.0 C429.2,242.4 429.7,241.4 430.0,241.3 C430.3,241.2 430.9,241.8 431.2,242.5 C431.5,243.2 431.7,244.4 432.0,246.0 C432.3,247.6 432.7,251.8 433.0,254.0 C433.3,256.2 433.6,260.1 434.0,261.5 C434.4,262.9 435.0,264.0 435.5,264.3 C436.0,264.6 437.0,263.5 437.5,263.6 C438.0,263.7 438.2,264.6 439.0,265.0 C439.8,265.4 442.4,266.3 443.0,266.5" fill="none" stroke="#1c1c1c" stroke-width="1.25" stroke-linejoin="round"/>
<rect x="390.3" y="220.3" width="58.2" height="46.7" fill="none" stroke="#4c4c4c" stroke-width="1.3"/>
<line x1="388.2" y1="256.17" x2="391.2" y2="256.17" stroke="#4c4c4c" stroke-width="0.9"/>
<line x1="388.2" y1="245.34" x2="391.2" y2="245.34" stroke="#4c4c4c" stroke-width="0.9"/>
<line x1="388.2" y1="234.51" x2="391.2" y2="234.51" stroke="#4c4c4c" stroke-width="0.9"/>
<line x1="388.2" y1="223.68" x2="391.2" y2="223.68" stroke="#4c4c4c" stroke-width="0.9"/>
<line x1="404.85" y1="269.0" x2="404.85" y2="266.1" stroke="#4c4c4c" stroke-width="0.9"/>
<line x1="419.4" y1="269.0" x2="419.4" y2="266.1" stroke="#4c4c4c" stroke-width="0.9"/>
<line x1="433.95" y1="269.0" x2="433.95" y2="266.1" stroke="#4c4c4c" stroke-width="0.9"/>
<text x="400.7" y="230.0" font-size="9.3" text-anchor="middle" fill="#1a1a1a">5</text>
<text x="395.3" y="240" font-size="9.3" text-anchor="start" fill="#1a1a1a">μM</text>
<path d="M468.5,266.5 C468.9,266.4 470.3,266.1 471.0,265.5 C471.7,264.9 472.8,263.3 473.5,262.0 C474.2,260.7 475.3,258.0 476.0,256.5 C476.7,255.0 477.9,252.2 478.5,251.0 C479.1,249.8 479.9,248.6 480.3,248.0 C480.7,247.4 481.1,246.8 481.4,247.0 C481.7,247.2 482.2,248.4 482.5,249.5 C482.8,250.6 483.3,253.5 483.6,255.0 C483.9,256.5 484.2,259.3 484.5,260.5 C484.8,261.7 485.0,262.9 485.5,263.5 C486.0,264.1 486.7,264.3 488.0,264.5 C489.3,264.7 492.8,265.0 495.0,265.2 C497.2,265.4 502.2,265.6 504.0,265.8 C505.8,266.0 507.4,266.4 508.0,266.5" fill="#c9c9c9" stroke="#1c1c1c" stroke-width="1.25" stroke-linejoin="round"/>
<path d="M468.5,266.5 C468.9,266.3 470.3,265.8 471.0,265.3 C471.7,264.8 472.8,263.5 473.5,263.0 C474.2,262.5 475.2,261.9 476.0,261.8 C476.8,261.7 478.2,262.1 479.0,262.3 C479.8,262.5 481.3,263.5 482.0,263.5 C482.7,263.5 483.6,262.8 484.0,262.0 C484.4,261.2 484.7,258.6 485.0,257.5 C485.3,256.4 485.9,254.5 486.3,254.2 C486.7,253.9 487.4,254.8 487.8,255.5 C488.2,256.2 489.0,258.3 489.5,259.0 C490.0,259.7 490.7,260.8 491.2,260.8 C491.7,260.8 492.5,259.9 493.0,259.0 C493.5,258.1 494.1,255.6 494.5,254.5 C494.9,253.4 495.6,251.1 496.0,251.0 C496.4,250.9 496.9,252.2 497.2,253.5 C497.5,254.8 497.9,258.5 498.2,260.0 C498.5,261.5 498.8,263.3 499.3,264.0 C499.8,264.7 500.7,264.9 501.5,265.3 C502.3,265.7 504.5,266.3 505.0,266.5" fill="none" stroke="#1c1c1c" stroke-width="1.25" stroke-linejoin="round"/>
<rect x="456.5" y="220.3" width="57.7" height="46.7" fill="none" stroke="#4c4c4c" stroke-width="1.3"/>
<line x1="454.4" y1="256.17" x2="457.4" y2="256.17" stroke="#4c4c4c" stroke-width="0.9"/>
<line x1="454.4" y1="245.34" x2="457.4" y2="245.34" stroke="#4c4c4c" stroke-width="0.9"/>
<line x1="454.4" y1="234.51" x2="457.4" y2="234.51" stroke="#4c4c4c" stroke-width="0.9"/>
<line x1="454.4" y1="223.68" x2="457.4" y2="223.68" stroke="#4c4c4c" stroke-width="0.9"/>
<line x1="470.925" y1="269.0" x2="470.925" y2="266.1" stroke="#4c4c4c" stroke-width="0.9"/>
<line x1="485.35" y1="269.0" x2="485.35" y2="266.1" stroke="#4c4c4c" stroke-width="0.9"/>
<line x1="499.77500000000003" y1="269.0" x2="499.77500000000003" y2="266.1" stroke="#4c4c4c" stroke-width="0.9"/>
<text x="460.6" y="230.7" font-size="9.3" text-anchor="start" fill="#1a1a1a">10</text>
<text x="460.6" y="240.3" font-size="9.3" text-anchor="start" fill="#1a1a1a">μM</text>
<text x="323.2" y="279.3" font-size="9" text-anchor="middle" fill="#1a1a1a">0</text>
<text x="352.2" y="279.3" font-size="9" text-anchor="middle" fill="#1a1a1a">2</text>
<text x="380.6" y="279.3" font-size="9" text-anchor="middle" fill="#1a1a1a">4</text>
<text x="419.6" y="279.3" font-size="9" text-anchor="middle" fill="#1a1a1a">2</text>
<text x="448" y="279.3" font-size="9" text-anchor="middle" fill="#1a1a1a">4</text>
<text x="485" y="279.3" font-size="9" text-anchor="middle" fill="#1a1a1a">2</text>
<text x="513.8" y="279.3" font-size="9" text-anchor="middle" fill="#1a1a1a">4</text>
<text x="418.7" y="291.6" font-size="9.35" text-anchor="middle" fill="#1a1a1a">Log fluorescence intensity</text>
<text x="304.4" y="323.4" font-size="17.5" text-anchor="start" font-weight="bold" fill="#000">E</text>
<text x="384.5" y="324.8" font-size="10" text-anchor="middle" fill="#1a1a1a">Serum-supp.</text>
<text x="382.5" y="334.0" font-size="10" text-anchor="middle" fill="#1a1a1a">medium</text>
<text x="451" y="325" font-size="10" text-anchor="middle" fill="#1a1a1a">Serum-free</text>
<text x="445" y="334.0" font-size="10" text-anchor="middle" fill="#1a1a1a">medium</text>
<text x="333.4" y="342" font-size="9" text-anchor="middle" fill="#1a1a1a">100 bp</text>
<text x="333.8" y="350.6" font-size="9" text-anchor="middle" fill="#1a1a1a">ladder</text>
<text x="476.6" y="341.2" font-size="9" text-anchor="start" fill="#1a1a1a">1 kb</text>
<text x="476.6" y="350.1" font-size="9" text-anchor="start" fill="#1a1a1a">ladder</text>
<path d="M353.8,341.3 V337.3 H409.3 V341.3" stroke="#4c4c4c" stroke-width="1" fill="none"/>
<path d="M412.2,341.3 V337.3 H468 V341.3" stroke="#4c4c4c" stroke-width="1" fill="none"/>
<line x1="345.1" y1="353.1" x2="345.1" y2="364.5" stroke="#4c4c4c" stroke-width="1.1"/>
<line x1="477.8" y1="353.5" x2="477.8" y2="363.6" stroke="#4c4c4c" stroke-width="1"/>
<text transform="translate(363.3 365.9) rotate(-90)" font-size="8.4" text-anchor="start" fill="#1a1a1a" letter-spacing="0.85">LPA1</text>
<text transform="translate(377.5 365.9) rotate(-90)" font-size="8.4" text-anchor="start" fill="#1a1a1a" letter-spacing="0.85">LPA2</text>
<text transform="translate(391.3 365.9) rotate(-90)" font-size="8.4" text-anchor="start" fill="#1a1a1a" letter-spacing="0.85">LPA3</text>
<text transform="translate(405.5 365.9) rotate(-90)" font-size="8.4" text-anchor="start" fill="#1a1a1a" letter-spacing="0.85">LPA4</text>
<text transform="translate(422.8 365.9) rotate(-90)" font-size="8.4" text-anchor="start" fill="#1a1a1a" letter-spacing="0.85">LPA1</text>
<text transform="translate(437.4 365.9) rotate(-90)" font-size="8.4" text-anchor="start" fill="#1a1a1a" letter-spacing="0.85">LPA2</text>
<text transform="translate(452.2 365.9) rotate(-90)" font-size="8.4" text-anchor="start" fill="#1a1a1a" letter-spacing="0.85">LPA3</text>
<text transform="translate(466.0 365.9) rotate(-90)" font-size="8.4" text-anchor="start" fill="#1a1a1a" letter-spacing="0.85">LPA4</text>
<rect x="338.3" y="368.6" width="146.6" height="77.4" fill="url(#gelbg)" filter="url(#b0)"/>
<g filter="url(#b1)">
<rect x="355" y="372" width="10.4" height="72" fill="#e9e9e9" opacity="0.3"/>
<rect x="369.1" y="372" width="10.9" height="72" fill="#e9e9e9" opacity="0.3"/>
<rect x="383.9" y="372" width="11.3" height="72" fill="#e9e9e9" opacity="0.3"/>
<rect x="398.5" y="372" width="10.5" height="72" fill="#e9e9e9" opacity="0.3"/>
<rect x="413" y="372" width="11.0" height="72" fill="#e9e9e9" opacity="0.3"/>
<rect x="428.3" y="372" width="10.2" height="72" fill="#e9e9e9" opacity="0.3"/>
<rect x="442.8" y="372" width="10.2" height="72" fill="#e9e9e9" opacity="0.3"/>
<rect x="458" y="372" width="9.8" height="72" fill="#e9e9e9" opacity="0.3"/>
<rect x="340.0" y="393.8" width="10.8" height="2.0" rx="0.8" fill="#b5b5b5" opacity="1"/>
<rect x="340.0" y="399.3" width="10.8" height="1.8" rx="0.8" fill="#c9c9c9" opacity="1"/>
<rect x="340.0" y="403.6" width="10.8" height="2.8" rx="0.8" fill="#8e8e8e" opacity="1"/>
<rect x="340.0" y="408.7" width="10.8" height="1.8" rx="0.8" fill="#c4c4c4" opacity="1"/>
<rect x="340.0" y="413.2" width="10.8" height="1.5" rx="0.8" fill="#d3d3d3" opacity="1"/>
<rect x="340.0" y="416.2" width="10.8" height="1.6" rx="0.8" fill="#c6c6c6" opacity="1"/>
<rect x="340.0" y="419.5" width="10.8" height="2.8" rx="0.8" fill="#888" opacity="1"/>
<rect x="340.0" y="424.8" width="10.8" height="1.8" rx="0.8" fill="#c4c4c4" opacity="1"/>
<rect x="340.0" y="430.9" width="10.8" height="1.5" rx="0.8" fill="#d2d2d2" opacity="1"/>
<rect x="340.0" y="437.9" width="10.8" height="1.5" rx="0.8" fill="#d6d6d6" opacity="1"/>
<rect x="355.0" y="413.5" width="10.4" height="3.0" rx="0.8" fill="#505050" opacity="1"/>
<rect x="369.1" y="405.3" width="10.9" height="2.7" rx="0.8" fill="#6a6a6a" opacity="1"/>
<rect x="383.9" y="416.9" width="11.3" height="3.5" rx="0.8" fill="#1e1e1e" opacity="1"/>
<rect x="398.5" y="398.6" width="10.5" height="2.4" rx="0.8" fill="#8c8c8c" opacity="1"/>
<rect x="413.0" y="412.2" width="11.0" height="3.5" rx="0.8" fill="#1e1e1e" opacity="1"/>
<rect x="428.3" y="401.6" width="10.2" height="2.0" rx="0.8" fill="#8a8a8a" opacity="1"/>
<rect x="428.3" y="404.1" width="10.2" height="3.4" rx="0.8" fill="#1e1e1e" opacity="1"/>
<rect x="442.8" y="416.1" width="10.2" height="3.0" rx="0.8" fill="#787878" opacity="1"/>
<rect x="458.0" y="398.3" width="9.8" height="2.0" rx="0.8" fill="#c4c4c4" opacity="1"/>
<rect x="472.2" y="369.9" width="10.4" height="2.0" rx="0.8" fill="#7c7c7c" opacity="1"/>
<rect x="472.2" y="372.7" width="10.4" height="1.8" rx="0.8" fill="#9a9a9a" opacity="1"/>
<rect x="472.2" y="375.4" width="10.4" height="2.0" rx="0.8" fill="#9e9e9e" opacity="1"/>
<rect x="472.2" y="378.8" width="10.4" height="2.4" rx="0.8" fill="#666" opacity="1"/>
<rect x="472.2" y="385.5" width="10.4" height="2.0" rx="0.8" fill="#a2a2a2" opacity="1"/>
<rect x="472.2" y="391.6" width="10.4" height="2.0" rx="0.8" fill="#b4b4b4" opacity="1"/>
<rect x="472.2" y="400.3" width="10.4" height="2.0" rx="0.8" fill="#c0c0c0" opacity="1"/>
<rect x="472.2" y="416.2" width="10.4" height="2.8" rx="0.8" fill="#bdbdbd" opacity="1"/>
</g>
<line x1="487.4" y1="380" x2="491.8" y2="380" stroke="#222" stroke-width="1.1"/>
<text x="495" y="384.9" font-size="9" text-anchor="start" fill="#1a1a1a">3 kb</text>
<line x1="487.4" y1="418.3" x2="491.8" y2="418.3" stroke="#222" stroke-width="1.1"/>
<text x="495" y="423.4" font-size="9" text-anchor="start" fill="#1a1a1a">0.5 kb</text>
</svg>
</body>
</html>
